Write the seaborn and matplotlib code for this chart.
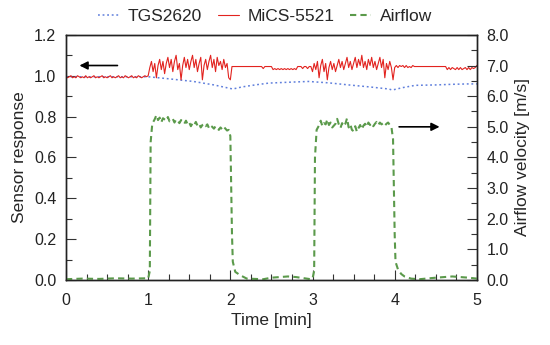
import numpy as np
import pandas as pd
import matplotlib
matplotlib.use("Agg")
import matplotlib.pyplot as plt
from matplotlib.ticker import MultipleLocator, FormatStrFormatter
import seaborn as sns

# ---- data ----
# TGS2620 (left axis), slow drift
tgs_time = [0.0, 0.5, 1.0, 1.25, 1.55, 1.8, 2.03, 2.14, 2.3, 2.47, 2.7, 2.95, 3.2, 3.44, 3.7, 3.93, 3.97, 4.1, 4.25, 4.5, 4.7, 4.9, 5.0]
tgs_resp = [0.995, 0.995, 0.995, 0.985, 0.972, 0.955, 0.935, 0.945, 0.955, 0.964, 0.968, 0.972, 0.965, 0.955, 0.945, 0.935, 0.930, 0.942, 0.953, 0.955, 0.958, 0.960, 0.960]

# MiCS-5521 (left axis), sampled every 0.02 min from 0 to 5 min
mics_resp = [
    0.995, 0.99, 0.995, 1.0, 0.99, 0.995, 0.99, 1.0, 0.995, 0.99, 0.995, 0.99, 1.0, 0.99, 0.995, 0.99, 0.995, 1.0, 0.99, 0.995, 0.99, 0.995, 1.0, 0.99, 0.995,
    0.99, 0.995, 1.0, 0.99, 0.995, 0.99, 0.995, 1.0, 0.99, 0.995, 0.99, 1.0, 0.995, 0.99, 0.995, 1.0, 0.99, 0.995, 0.99, 1.0, 0.995, 0.99, 0.995, 1.0, 0.995,
    1.00, 1.04, 1.07, 1.02, 1.06, 0.99, 1.05, 1.08, 1.03, 1.07, 1.01, 1.06, 1.09, 1.04, 1.08, 1.02, 1.07, 1.10, 1.03, 1.06, 0.98, 1.05, 1.09, 1.04, 1.08,
    1.03, 1.07, 1.10, 1.04, 1.08, 1.02, 1.06, 1.09, 0.98, 1.05, 1.08, 1.03, 1.07, 1.10, 1.04, 1.08, 1.02, 1.09, 1.05, 1.07, 1.03, 1.08, 1.04, 1.06, 0.99,
    0.98, 1.045, 1.045, 1.045, 1.045, 1.045, 1.045, 1.045, 1.045, 1.045, 1.045, 1.045, 1.045, 1.045, 1.045, 1.045, 1.045, 1.045, 1.045, 1.045, 1.035, 1.045, 1.045, 1.045, 1.045,
    1.045, 1.03, 1.035, 1.03, 1.035, 1.03, 1.035, 1.03, 1.035, 1.03, 1.035, 1.03, 1.035, 1.03, 1.035, 1.03, 1.045, 1.045, 1.045, 1.035, 1.045, 1.045, 1.035, 1.045, 1.045,
    1.02, 1.06, 1.03, 1.07, 0.99, 1.05, 1.08, 1.02, 1.06, 0.98, 1.04, 1.07, 1.03, 1.06, 1.02, 1.05, 1.08, 1.04, 1.07, 1.03, 1.06, 1.09, 1.04, 1.07, 1.03,
    1.06, 1.09, 1.04, 1.08, 1.05, 1.10, 1.04, 1.07, 1.03, 1.08, 1.05, 1.09, 1.04, 1.07, 1.03, 1.06, 1.09, 1.04, 1.08, 0.99, 1.06, 1.03, 1.07, 1.04, 0.98,
    1.04, 1.05, 1.04, 1.05, 1.045, 1.05, 1.04, 1.05, 1.04, 1.045, 1.04, 1.05, 1.045, 1.045, 1.045, 1.045, 1.045, 1.045, 1.045, 1.045, 1.045, 1.045, 1.045, 1.045, 1.045,
    1.045, 1.045, 1.045, 1.045, 1.045, 1.045, 1.045, 1.03, 1.04, 1.03, 1.04, 1.035, 1.03, 1.04, 1.03, 1.04, 1.03, 1.035, 1.04, 1.03, 1.04, 1.03, 1.04, 1.035, 1.04,
    1.05,
]
mics_time = np.linspace(0, 5, len(mics_resp))

# Airflow velocity (right axis)
flow_base1_t = [0.0, 0.2, 0.4, 0.6, 0.8, 0.98, 1.00, 1.02, 1.03, 1.05]
flow_base1_v = [0.03, 0.05, 0.04, 0.06, 0.05, 0.06, 0.05, 0.3, 4.5, 5.1]
flow_pulse1_v = [5.25, 5.38, 5.22, 5.30, 5.15, 5.28, 5.24, 5.20, 5.32, 5.18, 5.22, 5.26, 5.14, 5.24, 5.20, 5.12,
                 5.22, 5.16, 5.10, 5.20, 5.08, 5.14, 5.02, 5.12, 5.06, 5.16, 5.04, 5.10, 4.98, 5.06, 5.10, 5.02,
                 5.08, 4.96, 5.04, 5.00, 4.94, 5.02, 4.96, 4.90, 4.98, 4.92, 5.00, 4.94, 4.88, 4.90]
flow_pulse1_t = np.linspace(1.08, 1.98, len(flow_pulse1_v))
flow_base2_t = [2.00, 2.02, 2.03, 2.06, 2.12, 2.20, 2.4, 2.5, 2.6, 2.7, 2.8, 2.9, 2.98, 3.00, 3.02, 3.03, 3.05]
flow_base2_v = [4.7, 1.5, 0.6, 0.27, 0.16, 0.05, 0.03, 0.08, 0.10, 0.12, 0.10, 0.06, 0.03, 0.05, 0.3, 4.0, 4.9]
flow_pulse2_v = [5.05, 5.20, 5.02, 5.12, 5.08, 5.24, 5.06, 5.14, 4.98, 5.04, 5.10, 5.26, 5.08, 4.96, 5.12,
                 5.02, 5.10, 5.28, 4.98, 5.08, 4.90, 4.86, 5.02, 4.84, 4.96, 5.06, 4.92, 5.04, 5.10, 5.00,
                 5.14, 5.06, 5.12, 5.02, 5.10, 5.16, 5.06, 5.14, 5.08, 5.12, 5.04, 5.10, 5.14, 5.06, 5.00]
flow_pulse2_t = np.linspace(3.08, 3.96, len(flow_pulse2_v))
flow_base3_t = [3.98, 4.00, 4.01, 4.04, 4.08, 4.12, 4.20, 4.3, 4.5, 4.6, 4.7, 4.8, 4.9, 5.0]
flow_base3_v = [4.6, 1.5, 0.6, 0.35, 0.2, 0.12, 0.05, 0.03, 0.08, 0.10, 0.12, 0.10, 0.08, 0.05]

flow_time = np.concatenate([flow_base1_t, flow_pulse1_t, flow_base2_t, flow_pulse2_t, flow_base3_t])
flow_vel = np.concatenate([flow_base1_v, flow_pulse1_v, flow_base2_v, flow_pulse2_v, flow_base3_v])

tgs_df = pd.DataFrame({"time": tgs_time, "resp": tgs_resp})
mics_df = pd.DataFrame({"time": mics_time, "resp": mics_resp})
flow_df = pd.DataFrame({"time": flow_time, "vel": flow_vel})

# ---- style ----
sns.set_style("ticks")
plt.rcParams["font.family"] = ["Liberation Sans", "DejaVu Sans"]

TICK_FS = 11.5
LABEL_FS = 12.5

fig = plt.figure(figsize=(5.5, 3.45), dpi=100)
ax = fig.add_axes([0.12, 0.188, 0.747, 0.711])
ax2 = ax.twinx()

sns.lineplot(data=tgs_df, x="time", y="resp", ax=ax, color="#5f7fdc", linestyle=(0, (1.2, 1.8)),
             linewidth=1.1, sort=False, label="TGS2620", legend=False)
sns.lineplot(data=mics_df, x="time", y="resp", ax=ax, color="#e2231f", linewidth=0.8,
             sort=False, label="MiCS-5521", legend=False)
sns.lineplot(data=flow_df, x="time", y="vel", ax=ax2, color="#5b9a4b", linestyle=(0, (3, 2)),
             linewidth=1.5, sort=False, label="Airflow", legend=False)

ax.set_xlim(0, 5)
ax.set_ylim(0, 1.2)
ax2.set_ylim(0, 8)

ax.xaxis.set_major_locator(MultipleLocator(1))
ax.xaxis.set_minor_locator(MultipleLocator(0.25))
ax.yaxis.set_major_locator(MultipleLocator(0.2))
ax.yaxis.set_minor_locator(MultipleLocator(0.1))
ax.yaxis.set_major_formatter(FormatStrFormatter("%.1f"))
ax2.yaxis.set_major_locator(MultipleLocator(1))
ax2.yaxis.set_minor_locator(MultipleLocator(0.5))
ax2.yaxis.set_major_formatter(FormatStrFormatter("%.1f"))

for a in (ax, ax2):
    a.tick_params(which="both", direction="in", colors="#333333", labelcolor="#222222", labelsize=TICK_FS)
    a.tick_params(which="major", length=7, width=0.8)
    a.tick_params(which="minor", length=4, width=0.8)
    for s in a.spines.values():
        s.set_linewidth(1.0)
        s.set_color("#222222")
ax.tick_params(axis="x", pad=9)
ax.tick_params(axis="y", pad=7)
ax2.tick_params(axis="y", pad=7)

ax.set_xlabel("Time [min]", fontsize=LABEL_FS, labelpad=4)
ax.set_ylabel("Sensor response", fontsize=LABEL_FS, labelpad=5)
ax2.set_ylabel("Airflow velocity [m/s]", fontsize=LABEL_FS, labelpad=4)

# arrows pointing to the matching axis
ax.annotate("", xy=(0.13, 1.05), xytext=(0.66, 1.05),
            arrowprops=dict(arrowstyle="-|>", color="black", lw=1.2, mutation_scale=12))
ax2.annotate("", xy=(4.58, 5.0), xytext=(4.02, 5.0),
             arrowprops=dict(arrowstyle="-|>", color="black", lw=1.2, mutation_scale=12))

handles = ax.get_lines()[:2] + ax2.get_lines()[:1]
fig.legend(handles, ["TGS2620", "MiCS-5521", "Airflow"], loc="upper center",
           bbox_to_anchor=(0.482, 1.02), ncol=3, frameon=False, fontsize=LABEL_FS,
           handlelength=1.2, columnspacing=0.9, handletextpad=0.5)

fig.savefig("out.png", dpi=100)
